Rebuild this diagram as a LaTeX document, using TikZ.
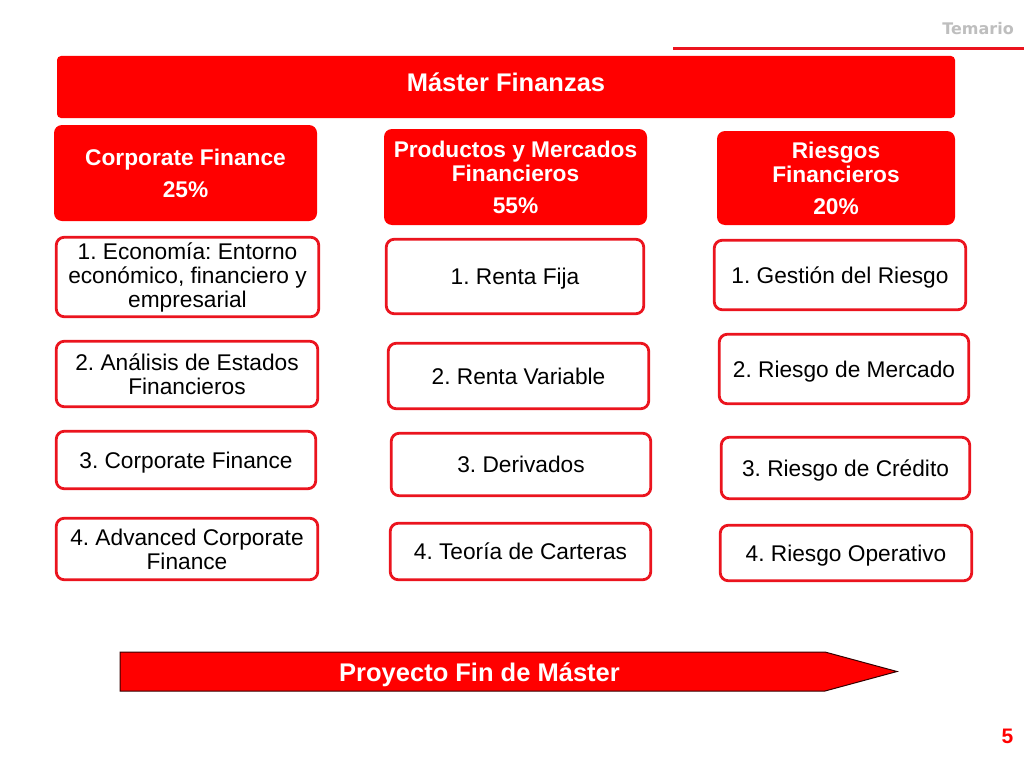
\documentclass[tikz,border=0pt]{standalone}
\usepackage{fontspec}
\setmainfont{Liberation Sans}
\newfontfamily\temariofont{DejaVu Sans}
\usepackage{xcolor}
\usetikzlibrary{positioning}
\definecolor{mred}{RGB}{255,0,0}
\definecolor{mborder}{RGB}{235,20,30}
\definecolor{mgray}{RGB}{190,190,190}
\tikzstyle{title}=[rectangle, fill=mred, rounded corners=4pt, text=white, outer sep=0pt, inner sep=0pt,
        align=center, font=\fontsize{25.5}{28}\selectfont\bfseries]
\tikzstyle{header}=[rectangle, fill=mred, rounded corners=8pt, text=white, outer sep=0pt, inner sep=0pt,
        align=center, font=\fontsize{22.7}{24}\selectfont\bfseries]
\tikzstyle{course}=[rectangle, draw=mborder, line width=2.8pt, fill=white, rounded corners=8pt, text=black,
        outer sep=0pt, inner sep=0pt, align=center, font=\fontsize{22.7}{24}\selectfont\frenchspacing]
\tikzstyle{lowered}=[text depth=0pt]

\begin{document}
\begin{tikzpicture}[x=1pt, y=-1pt]
        \useasboundingbox (0,0) rectangle (1024,768);
        \node (temario) [text=mgray, font=\fontsize{16}{18}\temariofont\bfseries, inner sep=0pt, anchor=east] at (1014,29) {Temario};
        \coordinate (lineleft) at (673,48.5);
        \coordinate (lineright) at (1024,48.5);
        \draw [mborder, line width=3.5pt] (lineleft) -- (lineright);
        \node (master) [title, minimum width=898pt, minimum height=62pt, text depth=9pt] at (506,87) {Máster Finanzas};
        % first column
        \node (corporate) [header, minimum width=263pt, minimum height=96pt, below=7pt of master, xshift=-320.5pt]
        {
          Corporate Finance\\[8pt]
          25\%
        };
        \node (economia) [course, minimum width=262.5pt, minimum height=79.5pt, below=16.25pt of corporate, xshift=2pt]
        {
          1. Economía: Entorno\\económico, financiero y\\empresarial
        };
        \node (analisis) [course, minimum width=261.5pt, minimum height=65.5pt, below=24.5pt of economia, xshift=-0.5pt]
        {
          2. Análisis de Estados\\Financieros
        };
        \node (finance) [course, lowered, minimum width=259.5pt, minimum height=57.5pt, below=24.5pt of analisis, xshift=-1pt]
        {3. Corporate Finance};
        \node (advanced) [course, minimum width=261.5pt, minimum height=61.5pt, below=29.5pt of finance, xshift=1pt]
        {
          4. Advanced Corporate\\Finance
        };
        % second column
        \node (productos) [header, minimum width=263pt, minimum height=96pt, below=11pt of master, xshift=9.5pt]
        {
          Productos y Mercados\\Financieros\\[8pt]
          55\%
        };
        \node (fija) [course, lowered, minimum width=257.5pt, minimum height=74.5pt, below=14.25pt of productos, xshift=-0.5pt]
        {1. Renta Fija};
        \node (variable) [course, minimum width=260.5pt, minimum height=65.5pt, below=29.5pt of fija, xshift=3.5pt]
        {2. Renta Variable};
        \node (derivados) [course, minimum width=259.5pt, minimum height=62.5pt, below=24.5pt of variable, xshift=2.5pt]
        {3. Derivados};
        \node (carteras) [course, minimum width=260.5pt, minimum height=56.5pt, below=27.5pt of derivados, xshift=-0.5pt]
        {4. Teoría de Carteras};
        % third column
        \node (riesgos) [header, minimum width=238pt, minimum height=94pt, below=13pt of master, xshift=330pt]
        {
          Riesgos\\Financieros\\[8pt]
          20\%
        };
        \node (gestion) [course, lowered, minimum width=251.5pt, minimum height=69.5pt, below=15.25pt of riesgos, xshift=4pt]
        {1. Gestión del Riesgo};
        \node (mercado) [course, lowered, minimum width=249.5pt, minimum height=69.5pt, below=24.5pt of gestion, xshift=4pt]
        {2. Riesgo de Mercado};
        \node (credito) [course, lowered, minimum width=248.5pt, minimum height=61.5pt, below=33.5pt of mercado, xshift=1.5pt]
        {3. Riesgo de Crédito};
        \node (operativo) [course, lowered, minimum width=251.5pt, minimum height=55.5pt, below=26.5pt of credito, xshift=0.5pt]
        {4. Riesgo Operativo};
        % project arrow
        \draw [fill=mred, draw=black!80!red, line width=1pt] (120,652) -- (825,652) -- (897,671.5) -- (825,691) -- (120,691) -- cycle;
        \node (proyecto) [text=white, font=\fontsize{25.5}{28}\selectfont\bfseries, inner sep=0pt] at (479.5,675) {Proyecto Fin de Máster};
        \node (pagina) [text=mred, font=\fontsize{21}{24}\selectfont\bfseries, inner sep=0pt] at (1007.5,736) {5};
\end{tikzpicture}
\end{document}
